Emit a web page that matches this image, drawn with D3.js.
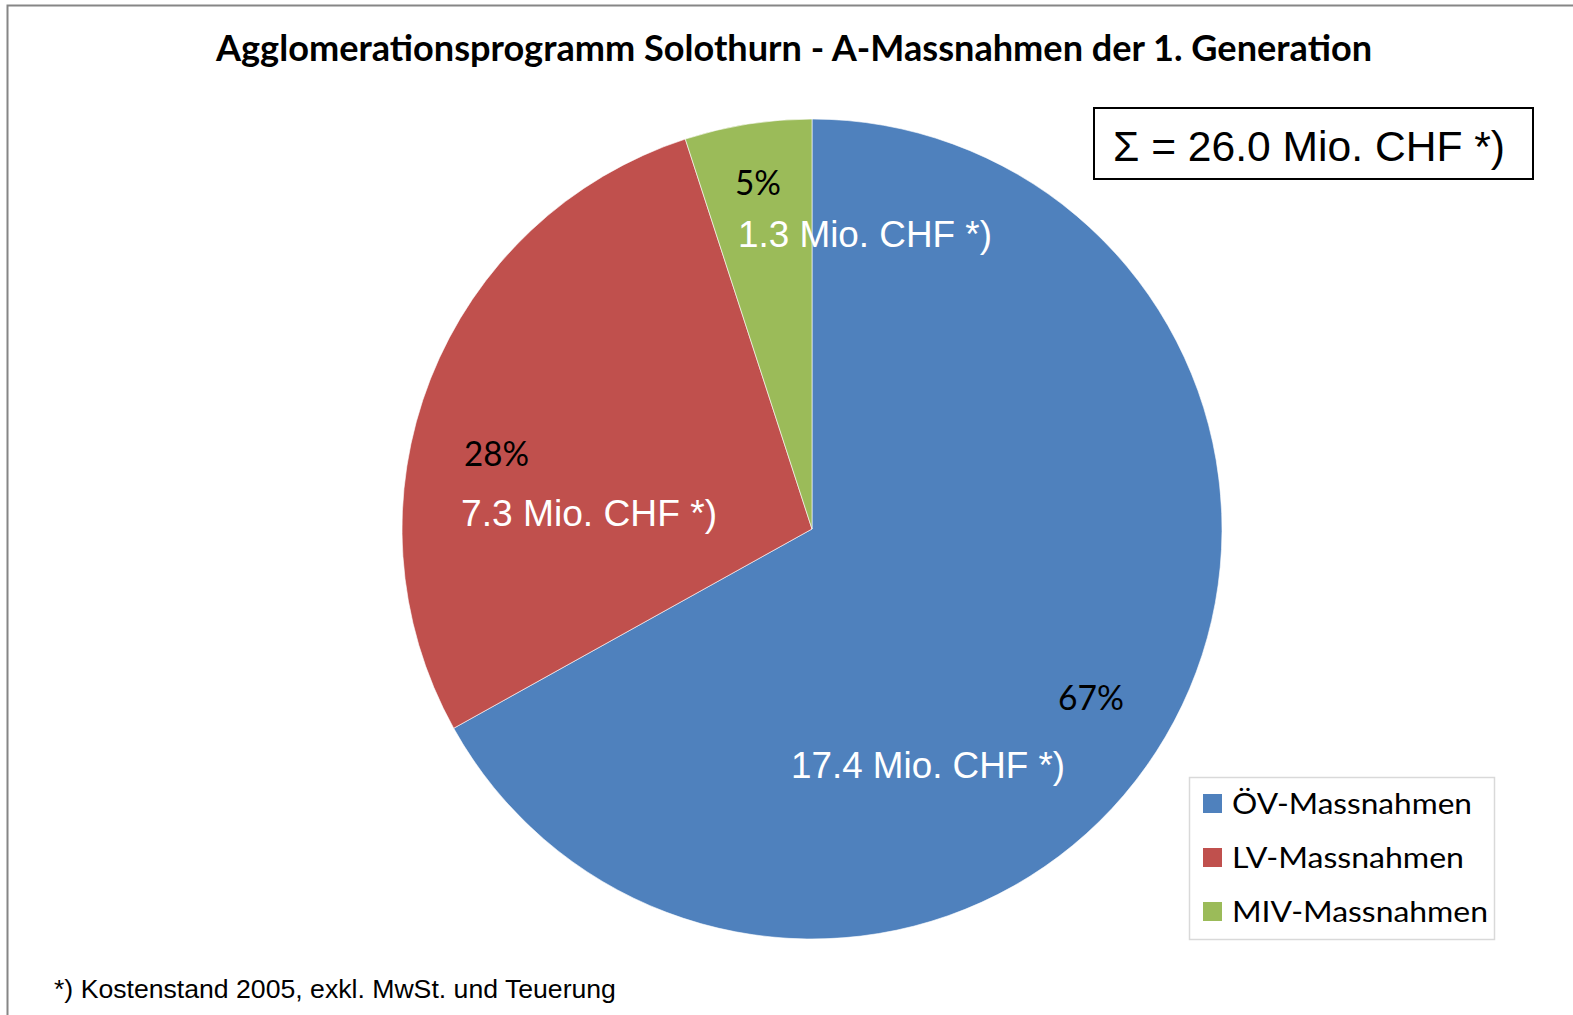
<!DOCTYPE html>
<html><head><meta charset="utf-8">
<script src="https://cdn.jsdelivr.net/npm/d3@7"></script>
<style>html,body{margin:0;padding:0;background:#fff;overflow:hidden}</style>
</head><body>
<svg id="chart" width="1573" height="1015"></svg>
<script>
// ---- data ----
const categories = ["ÖV-Massnahmen", "LV-Massnahmen", "MIV-Massnahmen"];
const values = [17.4, 7.3, 1.3];           // Mio. CHF
const colors = ["#4F81BD", "#C0504D", "#9BBB59"];
const valueLabels = ["17.4 Mio. CHF *)", "7.3 Mio. CHF *)", "1.3 Mio. CHF *)"];
const titleText = "Agglomerationsprogramm Solothurn - A-Massnahmen der 1. Generation";
const totalText = "Σ = " + d3.format(".1f")(d3.sum(values)) + " Mio. CHF *)";
const footText = "*) Kostenstand 2005, exkl. MwSt. und Teuerung";

const svg = d3.select("#chart");
const calibri = "Lato, 'Open Sans', sans-serif";
const arial = "'Liberation Sans', Arial, sans-serif";

function fit(t, width) {
  let fs = parseFloat(t.attr("font-size"));
  for (let i = 0; i < 3; i++) {
    const w = t.node().getComputedTextLength();
    fs = fs * width / w;
    t.attr("font-size", fs);
  }
  return t;
}

// outer border
svg.append("rect").attr("x", 7.5).attr("y", 5.5).attr("width", 1600).attr("height", 1100)
  .attr("fill", "none").attr("stroke", "#868686").attr("stroke-width", 2);

// title (Calibri-like: taller, condensed)
svg.append("text").attr("x", 216).attr("y", 61).attr("font-family", calibri)
  .attr("font-weight", 700).attr("font-size", 36).attr("fill", "#000")
  .attr("textLength", 1156).attr("lengthAdjust", "spacingAndGlyphs").text(titleText);

// pie
const cx = 812, cy = 529, R = 410;
const pie = d3.pie().sort(null).value(d => d)(values);
const arc = d3.arc().innerRadius(0).outerRadius(R);
const g = svg.append("g").attr("transform", `translate(${cx},${cy})`);
g.selectAll("path").data(pie).join("path").attr("d", arc)
  .attr("fill", (d, i) => colors[i]).attr("stroke", "#fff").attr("stroke-width", 0.6);

const total = d3.sum(values);
// label placements (dx, dy relative to centre, baseline, width)
const pctPos = [[246, 181, 66], [-348, -63, 65], [-77, -334, 46]];
const valPos = [[-21, 249, 274], [-351, -3, 256], [-74, -282, 254]];
pie.forEach((d, i) => {
  g.append("text").attr("x", pctPos[i][0]).attr("y", pctPos[i][1])
    .attr("font-family", calibri).attr("font-size", 34).attr("fill", "#000")
    .attr("textLength", pctPos[i][2]).attr("lengthAdjust", "spacingAndGlyphs")
    .text(Math.round(d.data / total * 100) + "%");
  fit(g.append("text").attr("x", valPos[i][0]).attr("y", valPos[i][1])
    .attr("font-family", arial).attr("font-size", 36).attr("fill", "#fff")
    .text(valueLabels[i]), valPos[i][2]);
});

// total box
svg.append("rect").attr("x", 1094).attr("y", 108).attr("width", 439).attr("height", 71)
  .attr("fill", "#fff").attr("stroke", "#000").attr("stroke-width", 2);
fit(svg.append("text").attr("x", 1113).attr("y", 161).attr("font-family", arial)
  .attr("font-size", 42).attr("fill", "#000").text(totalText), 392);

// legend
const lg = svg.append("g");
lg.append("rect").attr("x", 1189.5).attr("y", 777.5).attr("width", 305).attr("height", 162)
  .attr("fill", "#fff").attr("stroke", "#D9D9D9").attr("stroke-width", 1.5);
const legW = [240, 232, 256];
categories.forEach((c, i) => {
  const y = 803 + i * 54;
  lg.append("rect").attr("x", 1203).attr("y", y - 9).attr("width", 19).attr("height", 19).attr("fill", colors[i]);
  lg.append("text").attr("x", 1232).attr("y", y + 11).attr("font-family", calibri)
    .attr("font-size", 28).attr("fill", "#000")
    .attr("textLength", legW[i]).attr("lengthAdjust", "spacingAndGlyphs").text(c);
});

// footnote
fit(svg.append("text").attr("x", 54).attr("y", 998).attr("font-family", arial)
  .attr("font-size", 24).attr("fill", "#000").text(footText), 562);
</script>
</body></html>
